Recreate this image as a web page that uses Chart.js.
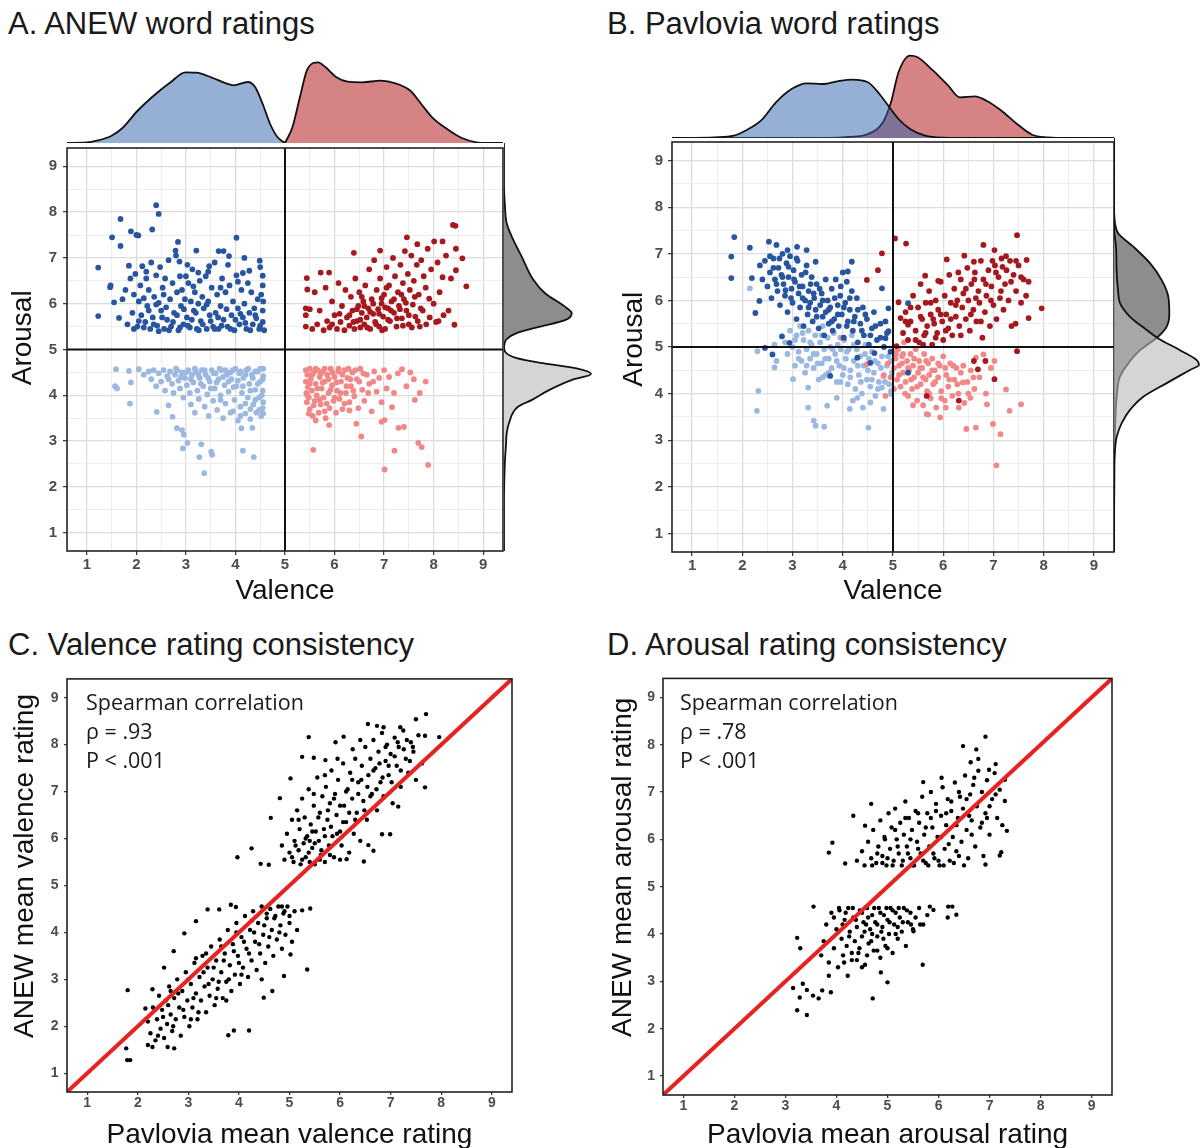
<!DOCTYPE html>
<html>
<head>
<meta charset="utf-8">
<title>ANEW vs Pavlovia word ratings</title>
<script src="https://cdn.jsdelivr.net/npm/chart.js@4.4.1/dist/chart.umd.min.js"></script>
<style>
  body { margin: 0; width: 1201px; height: 1148px; position: relative; overflow: hidden; background: #fff;
         font-family: "Liberation Sans", Arial, sans-serif; }
  canvas { position: absolute; }
  .title { position: absolute; font-size: 31px; line-height: 1; color: #1a1a1a; white-space: nowrap; }
  .stats { position: absolute; font-family: "Open Sans", sans-serif; font-size: 21.5px; line-height: 29px; color: #1a1a1a; white-space: nowrap; }
</style>
</head>
<body>
<div class="title" style="left:8px;top:8px">A. ANEW word ratings</div>
<div class="title" style="left:607px;top:8px">B. Pavlovia word ratings</div>
<div class="title" style="left:8px;top:629px">C. Valence rating consistency</div>
<div class="title" style="left:607px;top:629px">D. Arousal rating consistency</div>

<canvas id="scatterA" width="515" height="480" style="left:0;top:133px"></canvas>
<canvas id="topA" width="515" height="91" style="left:0;top:52px"></canvas>
<canvas id="rightA" width="97" height="408" style="left:504px;top:143px"></canvas>

<canvas id="scatterB" width="521" height="485" style="left:605px;top:128px"></canvas>
<canvas id="topB" width="526" height="91" style="left:600px;top:47px"></canvas>
<canvas id="rightB" width="87" height="414" style="left:1114px;top:138px"></canvas>

<canvas id="scatterC" width="525" height="483" style="left:0;top:665px"></canvas>
<canvas id="scatterD" width="529" height="483" style="left:596px;top:665px"></canvas>

<div class="stats" style="left:86px;top:687px">Spearman correlation<br>ρ = .93<br>P &lt; .001</div>
<div class="stats" style="left:680px;top:687px">Spearman correlation<br>ρ = .78<br>P &lt; .001</div>

<script>
const FONT = '"Liberation Sans", Arial, Helvetica, sans-serif';
Chart.defaults.font.family = FONT;

// --- tick labels (1..9 on every axis) ---
const axisTicks = [1, 2, 3, 4, 5, 6, 7, 8, 9];

// --- A: ANEW ratings [valence, arousal] ---
const anewHighNeg = [[1.23,6.79],[1.23,5.73],[1.51,7.45],[1.68,7.85],[1.68,7.26],[1.48,6.40],[1.47,6.36],[1.55,6.03],[1.89,7.58],[2.04,7.49],[2.00,7.50],[2.32,7.62],[2.40,8.15],[2.45,7.96],[2.84,7.35],[2.79,7.16],[3.21,7.16],[3.66,7.15],[3.76,7.15],[4.02,7.44],[3.87,7.04],[4.18,7.00],[4.49,6.94],[4.55,6.61],[4.55,6.40],[4.15,6.67],[3.03,6.85],[3.47,6.82],[3.25,6.68],
  [1.65,5.69],[1.72,6.10],[1.78,6.30],[1.82,5.55],[1.85,6.83],[1.88,6.55],[1.92,5.80],[1.95,6.20],[1.98,6.65],[2.02,5.50],[2.05,6.05],[2.08,6.40],[2.10,5.75],[2.12,6.82],[2.15,6.12],[2.18,5.60],[2.20,6.55],[2.22,5.95],[2.25,6.30],[2.28,5.45],[2.30,6.90],[2.33,5.70],[2.36,6.15],[2.40,6.62],[2.42,5.52],[2.45,6.02],[2.48,6.80],[2.50,5.85],[2.53,6.35],[2.56,5.45],[2.58,6.55],[2.62,5.65],[2.65,6.95],[2.68,6.10],[2.70,5.50],[2.73,6.45],[2.76,5.80],[2.80,7.05],[2.82,6.25],[2.85,5.42],[2.88,6.60],[2.90,5.95],[2.92,6.30],[2.95,5.55],[2.98,6.10],[3.02,5.70],[3.05,6.45],[3.08,5.48],[3.10,6.05],[3.13,6.75],[3.16,5.85],[3.18,6.25],[3.22,5.45],[3.25,6.00],[3.28,6.50],[3.30,5.62],[3.33,6.15],[3.36,5.90],[3.40,6.60],[3.42,5.45],[3.45,6.05],[3.48,5.75],[3.52,6.35],[3.55,5.50],[3.58,6.90],[3.60,5.80],[3.63,6.20],[3.66,5.45],[3.70,5.95],[3.73,6.55],[3.76,5.65],[3.80,6.25],[3.84,5.50],[3.88,6.40],[3.92,5.75],[3.95,6.05],[3.98,5.42],[4.02,6.62],[4.05,5.90],[4.08,5.55],[4.12,6.30],[4.15,5.70],[4.18,6.00],[4.22,5.45],[4.25,6.45],[4.28,5.80],[4.32,6.25],[4.35,5.55],[4.38,5.90],[4.42,5.68],[4.45,6.10],[4.48,5.45],[4.52,6.20],[4.55,5.85],[4.55,5.60],[4.56,6.05],
  [1.95,5.45],[2.05,5.62],[2.15,5.48],[2.25,5.85],[2.35,5.55],[2.45,5.40],[2.52,5.70],[2.60,5.92],[2.66,5.42],[2.74,5.60],[2.82,5.75],[2.88,5.48],[2.96,5.88],[3.04,5.52],[3.12,5.65],[3.20,5.80],[3.26,5.42],[3.34,5.55],[3.42,5.98],[3.50,5.62],[3.58,5.45],[3.65,5.70],[3.72,5.52],[3.82,5.88],[3.90,5.45],[4.00,5.65],[4.10,5.78],[4.20,5.58],[4.30,5.42],[4.40,5.75],[4.50,5.52],[4.58,5.42],[2.20,6.70],[2.55,6.20],[2.87,6.92],[3.15,6.38],[3.45,6.70],[3.85,6.85],[4.28,6.72],[4.50,6.80],[3.00,6.60],[2.40,5.98],[3.70,6.35],[4.05,6.48]];
const anewLowNeg = [[1.59,4.57],[1.61,4.15],[1.57,4.20],[1.85,4.53],[1.89,4.28],[1.87,3.82],[2.05,4.57],[2.41,3.64],[2.73,3.53],[2.65,3.78],[2.82,3.28],[2.92,3.24],[2.96,3.14],[3.03,2.96],[2.94,2.84],[3.27,2.65],[3.37,2.30],[3.51,2.77],[3.53,2.70],[3.31,2.93],[4.15,2.79],[4.37,2.65],[4.34,3.29],[4.12,3.28],
  [2.15,4.45],[2.25,4.52],[2.30,4.35],[2.35,4.55],[2.40,4.20],[2.45,4.48],[2.50,4.30],[2.55,4.55],[2.58,4.10],[2.62,4.42],[2.68,4.52],[2.72,4.25],[2.75,4.05],[2.78,4.45],[2.82,4.55],[2.85,4.32],[2.88,4.15],[2.92,4.50],[2.95,3.95],[2.98,4.38],[3.02,4.22],[3.05,4.55],[3.08,4.05],[3.10,3.80],[3.12,4.45],[3.15,4.28],[3.18,3.62],[3.20,4.52],[3.23,4.10],[3.26,3.92],[3.28,4.38],[3.32,4.55],[3.35,4.20],[3.38,3.75],[3.40,4.45],[3.43,4.02],[3.46,3.55],[3.48,4.30],[3.52,4.55],[3.55,3.88],[3.58,4.15],[3.60,4.48],[3.63,3.68],[3.66,4.35],[3.70,4.00],[3.72,4.55],[3.75,3.50],[3.78,4.22],[3.80,3.82],[3.83,4.45],[3.86,4.08],[3.90,3.62],[3.92,4.35],[3.95,4.55],[3.98,3.90],[4.02,4.20],[4.05,3.45],[4.08,4.48],[4.10,3.75],[4.13,4.05],[4.16,4.38],[4.20,3.60],[4.22,4.55],[4.25,3.95],[4.28,4.25],[4.30,3.48],[4.33,4.45],[4.36,3.80],[4.40,4.12],[4.42,3.62],[4.45,4.52],[4.48,3.95],[4.50,4.30],[4.52,3.55],[4.55,4.10],[4.55,3.72],[4.56,4.42],[4.56,3.85],[4.56,4.58],
  [2.65,4.35],[2.80,4.58],[2.90,4.40],[3.00,4.50],[3.10,4.35],[3.18,4.58],[3.25,4.45],[3.30,4.25],[3.38,4.55],[3.45,4.38],[3.50,4.15],[3.56,4.48],[3.62,4.28],[3.68,4.58],[3.75,4.40],[3.80,4.55],[3.86,4.30],[3.90,4.50],[3.96,4.18],[4.00,4.58],[4.05,4.32],[4.10,4.52],[4.15,4.20],[4.20,4.45],[4.26,4.58],[4.30,4.10],[4.35,4.38],[4.40,4.52],[4.45,4.25],[4.50,4.58],[4.53,4.00],[4.55,4.35],[4.40,3.90],[4.30,3.70],[4.48,3.68],[4.20,3.82],[3.95,3.65],[3.70,3.90],[4.56,3.60],[4.10,3.55]];
const anewHighPos = [[5.44,6.56],[5.45,6.31],[5.42,5.90],[5.42,5.75],[5.42,5.50],[5.72,6.68],[5.89,6.68],[6.39,7.11],[6.92,7.16],[7.46,7.45],[7.67,7.30],[8.01,7.36],[8.18,7.36],[8.39,7.72],[8.44,7.70],[8.58,6.99],[8.66,6.38],[8.45,7.20],[8.45,6.73],[8.42,5.54],[8.18,6.58],[7.91,6.11],
  [5.50,5.88],[5.55,5.45],[5.60,6.25],[5.65,5.55],[5.70,5.85],[5.78,5.42],[5.82,6.35],[5.85,5.62],[5.90,5.48],[5.95,6.05],[6.00,5.75],[6.05,5.45],[6.08,6.45],[6.12,5.60],[6.15,5.95],[6.20,5.42],[6.22,6.30],[6.25,5.70],[6.30,5.52],[6.33,6.15],[6.36,5.85],[6.40,5.45],[6.42,6.55],[6.45,5.62],[6.48,5.95],[6.50,6.25],[6.52,5.48],[6.55,5.80],[6.58,6.05],[6.60,5.55],[6.62,6.40],[6.65,5.70],[6.68,5.90],[6.70,6.75],[6.72,5.45],[6.75,6.10],[6.78,5.78],[6.80,6.95],[6.82,5.60],[6.85,6.30],[6.88,5.88],[6.90,5.50],[6.92,6.55],[6.95,6.00],[6.98,5.72],[7.00,6.20],[7.02,5.45],[7.05,6.80],[7.08,5.90],[7.10,6.40],[7.12,5.62],[7.15,6.05],[7.18,7.00],[7.20,5.80],[7.22,6.60],[7.25,5.50],[7.28,6.25],[7.30,5.95],[7.33,6.85],[7.36,5.68],[7.38,6.45],[7.40,6.10],[7.42,7.15],[7.45,5.85],[7.48,6.65],[7.50,5.55],[7.52,6.30],[7.55,7.05],[7.58,5.98],[7.60,6.50],[7.63,5.72],[7.66,6.85],[7.70,6.20],[7.72,5.50],[7.75,6.95],[7.78,5.85],[7.80,6.60],[7.84,6.35],[7.88,7.20],[7.92,5.70],[7.95,6.75],[8.00,6.00],[8.05,5.60],[8.08,6.90],[8.12,6.25],[8.20,5.75],[8.25,7.05],[8.30,5.85],[8.35,6.55],
  [6.30,5.75],[6.38,5.60],[6.45,5.88],[6.52,5.65],[6.60,5.95],[6.66,5.48],[6.72,5.82],[6.78,6.00],[6.84,5.55],[6.90,5.78],[6.96,5.42],[7.02,5.92],[7.08,5.65],[7.14,5.85],[7.20,6.10],[7.26,5.68],[7.32,5.88],[7.38,5.52],[7.44,6.02],[7.50,5.75],[7.56,5.48],[7.62,6.15],[7.68,5.62],[7.74,5.90],[6.95,6.12],[6.55,6.15],[7.05,6.35],[7.35,6.20],[7.85,5.55],[8.10,5.62],[6.10,5.78],[5.95,5.55]];
const anewLowPos = [[5.57,2.81],[5.89,3.35],[6.54,3.10],[7.01,2.38],[7.21,2.79],[7.29,3.29],[7.40,3.31],[7.69,2.96],[7.76,2.87],[7.89,2.48],[7.84,4.30],[7.62,3.90],[7.53,4.50],[7.36,4.57],[7.01,3.46],[6.95,3.42],[6.30,3.67],[6.44,3.38],[7.16,3.74],
  [5.42,4.55],[5.42,4.30],[5.43,4.05],[5.44,3.85],[5.45,4.45],[5.46,4.18],[5.48,3.95],[5.50,4.58],[5.50,3.70],[5.52,4.35],[5.54,4.10],[5.56,3.55],[5.58,4.50],[5.60,3.88],[5.62,4.25],[5.64,4.00],[5.66,4.55],[5.68,3.62],[5.70,4.40],[5.72,3.80],[5.74,4.15],[5.76,4.52],[5.78,3.95],[5.80,4.30],[5.82,3.50],[5.85,4.45],[5.88,4.05],[5.90,3.72],[5.92,4.58],[5.95,4.22],[5.98,3.88],[6.00,4.40],[6.03,3.62],[6.05,4.10],[6.08,4.52],[6.10,3.92],[6.13,4.30],[6.16,3.70],[6.20,4.55],[6.23,4.05],[6.26,4.38],[6.30,3.85],[6.33,4.20],[6.36,4.50],[6.40,3.98],[6.45,4.35],[6.48,3.72],[6.52,4.58],[6.56,4.12],[6.60,3.88],[6.65,4.45],[6.70,4.25],[6.75,3.65],[6.80,4.52],[6.85,4.08],[6.90,4.38],[6.95,3.85],[7.00,4.55],[7.05,4.15],[7.10,4.40],[7.20,4.05],[7.28,4.48],[7.45,4.20],[7.60,4.35],[7.72,4.05],
  [5.45,4.00],[5.50,4.25],[5.55,4.45],[5.58,3.78],[5.62,4.58],[5.65,4.15],[5.70,3.90],[5.72,4.48],[5.76,4.28],[5.80,4.58],[5.84,3.82],[5.88,4.35],[5.92,4.12],[5.96,4.50],[6.00,3.95],[6.04,4.28],[6.08,4.58],[6.12,4.05],[6.16,4.45],[6.20,3.82],[6.24,4.20],[6.28,4.58],[6.32,4.35],[6.38,4.10],[6.42,4.55],[6.50,4.30],[6.58,4.48],[6.68,4.05],[6.78,4.30],[5.48,3.60],[5.62,3.45],[5.80,3.65]];

// --- B: Pavlovia ratings [valence, arousal], coloured by ANEW group ---
const pavHighNeg = [[1.78,6.94],[1.78,6.48],[1.84,7.36],[2.15,7.13],[2.19,6.48],[2.26,5.73],[2.34,5.99],[2.53,7.26],[2.68,7.19],[2.90,7.08],[3.09,7.15],[3.28,7.08],[3.46,6.83],[4.18,6.83],[4.10,6.62],[4.78,6.26],[4.91,5.83],[4.91,5.34],[4.85,5.19],[2.60,4.84],[2.45,4.98],[2.79,5.23],[2.94,5.09],[3.75,4.38],[4.29,4.77],[4.55,4.66],[4.63,4.87],[5.30,5.94],[5.30,4.45],
  [2.45,6.85],[2.50,6.30],[2.55,6.60],[2.58,6.05],[2.62,6.90],[2.65,6.45],[2.70,6.20],[2.72,6.70],[2.75,5.90],[2.78,6.55],[2.80,7.00],[2.82,6.35],[2.85,6.10],[2.88,6.80],[2.90,5.75],[2.92,6.50],[2.95,6.95],[2.98,6.25],[3.00,5.95],[3.02,6.65],[3.05,6.40],[3.08,5.60],[3.10,6.85],[3.12,6.15],[3.15,5.85],[3.18,6.55],[3.20,6.30],[3.22,5.45],[3.25,6.00],[3.28,6.75],[3.30,5.70],[3.32,6.20],[3.35,5.95],[3.38,6.50],[3.40,5.55],[3.43,6.05],[3.46,5.80],[3.48,6.35],[3.52,5.40],[3.55,5.90],[3.58,6.15],[3.60,5.65],[3.63,5.25],[3.66,5.75],[3.70,6.00],[3.72,5.50],[3.75,5.85],[3.78,6.25],[3.80,5.35],[3.83,5.60],[3.86,6.45],[3.90,5.90],[3.92,5.45],[3.95,6.10],[3.98,5.70],[4.00,6.60],[4.02,5.20],[4.05,5.95],[4.08,6.40],[4.10,5.55],[4.14,5.80],[4.18,6.20],[4.20,5.35],[4.24,5.65],[4.28,6.05],[4.30,5.10],[4.35,5.50],[4.40,5.85],[4.42,5.25],[4.48,5.60],[4.52,5.05],[4.58,5.40],[4.62,5.75],[4.68,5.15],[4.75,5.50],[4.82,5.00],[4.88,5.30],[4.95,4.90],
  [2.55,6.95],[2.62,6.70],[2.68,6.35],[2.74,6.90],[2.80,6.50],[2.86,6.22],[2.92,6.72],[2.97,6.05],[3.03,6.45],[3.08,6.90],[3.14,6.30],[3.20,6.05],[3.26,6.60],[3.32,5.85],[3.36,6.35],[3.42,6.15],[3.48,5.65],[3.54,6.25],[3.60,6.00],[3.66,6.45],[3.72,5.80],[3.78,5.55],[3.84,6.05],[3.90,5.70],[3.96,6.30],[4.02,5.85],[4.08,5.45],[4.14,6.05],[4.22,5.55],[4.30,5.80],[4.38,5.35],[4.45,5.70],[4.55,5.25],[4.65,5.45],[4.75,5.20],[4.85,5.55],[2.35,6.75],[2.40,6.45]];
const pavLowNeg = [[2.15,6.26],[2.30,4.91],[2.32,4.06],[2.29,3.63],[2.64,5.05],[2.64,4.56],[2.68,4.70],[3.01,4.31],[3.31,4.13],[3.31,3.70],[3.42,3.42],[3.46,3.31],[3.63,3.29],[3.69,3.74],[3.88,3.91],[4.14,3.67],[4.29,3.91],[4.51,3.27],[4.55,3.81],[4.81,3.67],[4.78,4.13],[4.96,3.99],
  [2.85,5.10],[2.90,4.85],[2.95,5.35],[3.00,5.00],[3.05,4.60],[3.08,5.25],[3.12,4.90],[3.15,5.45],[3.18,4.70],[3.22,5.15],[3.25,4.45],[3.28,4.95],[3.32,5.35],[3.35,4.75],[3.38,5.05],[3.42,4.55],[3.45,5.25],[3.48,4.85],[3.52,4.30],[3.55,5.10],[3.58,4.65],[3.60,5.45],[3.63,4.95],[3.66,4.40],[3.70,5.20],[3.72,4.75],[3.75,5.00],[3.78,4.55],[3.82,5.30],[3.85,4.85],[3.88,4.25],[3.90,5.05],[3.93,4.60],[3.96,4.95],[4.00,4.40],[4.03,5.15],[4.06,4.75],[4.10,4.20],[4.12,4.95],[4.15,4.50],[4.18,5.25],[4.22,4.70],[4.25,4.10],[4.28,4.95],[4.32,4.40],[4.35,4.80],[4.38,4.00],[4.42,4.60],[4.45,5.05],[4.48,4.30],[4.52,4.75],[4.55,4.15],[4.58,4.90],[4.62,4.45],[4.65,3.95],[4.70,4.65],[4.72,4.25],[4.78,4.80],[4.82,4.40],[4.88,4.60],[4.92,4.20],[4.96,4.70],[4.98,4.45],
  [3.05,5.15],[3.12,4.75],[3.20,5.30],[3.28,4.60],[3.35,5.10],[3.42,4.85],[3.50,4.65],[3.58,5.25],[3.65,4.75],[3.72,4.45],[3.80,4.95],[3.88,4.70],[3.95,5.20],[4.02,4.55],[4.08,4.90],[4.15,4.35],[4.22,5.05],[4.30,4.60],[4.36,4.25],[4.44,4.85],[4.50,4.50],[4.58,4.30],[4.64,4.70],[4.70,4.10],[4.76,4.55],[4.84,4.25],[4.90,4.80],[4.96,4.05],[4.40,3.70],[4.20,3.85],[3.95,4.25],[3.60,4.35]];
const pavHighPos = [[4.78,7.01],[4.70,6.65],[4.48,6.44],[5.04,7.33],[5.26,7.22],[5.64,6.53],[5.90,6.42],[6.07,6.88],[6.42,6.96],[6.61,6.83],[6.80,7.19],[7.02,7.08],[7.47,7.40],[7.66,6.87],[7.70,6.40],[7.96,5.83],[7.70,5.62],[7.47,4.91],[7.44,5.50],[6.84,4.70],[6.69,4.52],[6.61,4.70],[7.02,4.31],[6.31,3.85],[5.67,3.95],[5.07,5.02],[5.11,5.96],[5.15,5.62],[5.30,5.48],
  [5.20,5.30],[5.25,5.75],[5.30,5.15],[5.35,5.55],[5.40,6.10],[5.45,5.35],[5.50,5.85],[5.52,5.10],[5.55,6.35],[5.58,5.60],[5.62,5.25],[5.65,5.95],[5.68,5.45],[5.72,6.20],[5.75,5.70],[5.78,5.05],[5.82,5.50],[5.85,6.00],[5.88,5.30],[5.90,5.80],[5.95,6.40],[5.98,5.55],[6.00,5.15],[6.03,6.10],[6.06,5.70],[6.10,5.40],[6.12,6.55],[6.15,5.95],[6.18,5.25],[6.22,6.25],[6.25,5.65],[6.28,6.00],[6.32,5.45],[6.35,6.45],[6.38,5.85],[6.40,6.15],[6.45,5.60],[6.48,6.70],[6.50,6.00],[6.53,5.35],[6.56,6.35],[6.60,5.80],[6.63,6.60],[6.66,5.55],[6.70,6.20],[6.72,5.95],[6.75,6.85],[6.78,5.20],[6.80,6.45],[6.83,5.75],[6.86,6.10],[6.90,6.65],[6.93,5.45],[6.96,6.30],[7.00,5.90],[7.03,6.75],[7.06,5.60],[7.10,6.50],[7.13,6.05],[7.16,6.90],[7.20,5.80],[7.23,6.35],[7.26,6.65],[7.30,6.00],[7.33,6.85],[7.36,5.45],[7.40,6.55],[7.45,6.20],[7.50,6.75],[7.55,5.95],[7.60,6.45],[7.65,6.10],
  [5.25,5.55],[5.35,5.85],[5.45,5.15],[5.55,5.65],[5.65,5.30],[5.75,5.95],[5.85,5.20],[5.95,5.70],[6.05,5.35],[6.15,5.60],[6.25,5.90],[6.35,5.25],[6.45,6.25],[6.55,5.70],[6.65,6.05],[6.75,5.55],[6.85,6.35],[6.95,6.00],[7.05,6.60],[7.15,6.20],[7.25,6.95],[7.35,6.40],[7.45,6.85],[7.55,6.50],[7.18,6.72],[6.98,6.85],[6.62,6.45],[6.30,6.60],[5.80,5.60],[5.60,5.05]];
const pavLowPos = [[4.81,4.38],[4.85,3.95],[4.48,4.63],[3.99,5.19],[7.06,2.46],[7.14,3.13],[6.99,3.35],[6.65,3.27],[6.46,3.24],[7.32,3.63],[7.55,3.77],[7.25,4.09],[7.02,4.70],[6.80,4.84],[6.65,4.77],[6.39,4.24],[5.94,3.49],[5.67,3.56],[6.31,3.70],[6.54,3.91],[6.87,3.77],
  [5.00,4.90],[5.02,4.55],[5.05,4.75],[5.08,4.30],[5.10,4.95],[5.12,4.60],[5.15,4.15],[5.18,4.80],[5.20,4.45],[5.22,5.10],[5.25,4.25],[5.28,4.70],[5.30,3.95],[5.32,4.50],[5.35,4.85],[5.38,4.10],[5.40,4.60],[5.42,4.35],[5.45,4.95],[5.48,3.85],[5.50,4.45],[5.52,4.70],[5.55,4.20],[5.58,4.55],[5.60,3.75],[5.62,4.85],[5.65,4.30],[5.68,4.05],[5.70,4.65],[5.72,4.40],[5.75,3.90],[5.78,4.75],[5.80,4.20],[5.83,4.50],[5.86,3.70],[5.90,4.35],[5.93,4.60],[5.96,4.05],[6.00,4.80],[6.03,3.85],[6.06,4.40],[6.10,4.15],[6.14,4.65],[6.18,3.95],[6.22,4.30],[6.26,4.55],[6.30,4.00],[6.35,4.45],[6.42,3.80],[6.48,4.25],[6.55,4.50],[6.62,4.10],[6.72,4.35],[6.85,4.00],[6.95,4.55],
  [4.90,4.65],[4.95,4.35],[5.02,4.10],[5.06,4.85],[5.12,4.40],[5.18,4.65],[5.24,4.00],[5.30,4.55],[5.36,4.30],[5.42,4.75],[5.48,4.15],[5.54,4.55],[5.60,4.35],[5.66,4.70],[5.72,4.00],[5.78,4.50],[5.84,4.25],[5.90,4.65],[5.96,3.90],[6.04,4.55],[6.12,4.30],[6.20,4.60],[6.28,4.20],[6.40,4.60],[6.50,4.00],[6.60,4.35],[5.40,3.75],[5.70,3.55],[6.05,3.70],[5.20,4.85]];

// --- C: [Pavlovia valence, ANEW valence] ---
const valUpper = [[3.97,5.60],[4.25,5.79],[4.43,5.46],[4.59,5.44],[4.63,6.44],[4.81,6.86],[5.02,7.28],[5.25,7.74],[5.38,8.16],[5.48,7.72],[5.71,7.67],[5.91,8.05],[6.07,8.17],[6.55,8.44],[6.73,8.40],[6.86,8.37],[7.19,8.37],[7.50,8.54],[7.70,8.65],[7.68,8.19],[7.96,8.16],[7.68,7.09],[7.15,6.68],[6.99,6.09],[6.83,6.09],[6.56,5.86],[6.47,5.51],[6.66,5.74],[6.13,5.56],
  [4.85,5.85],[4.90,5.55],[4.95,6.10],[5.00,5.70],[5.05,6.40],[5.08,5.50],[5.10,5.95],[5.15,6.60],[5.18,5.75],[5.20,6.20],[5.22,5.45],[5.25,6.85],[5.28,5.90],[5.30,6.45],[5.32,5.60],[5.35,6.05],[5.38,7.05],[5.40,5.50],[5.42,6.30],[5.45,5.80],[5.48,6.70],[5.50,5.45],[5.52,6.15],[5.55,7.30],[5.58,5.95],[5.60,6.55],[5.62,5.65],[5.65,6.90],[5.68,6.20],[5.70,5.50],[5.72,7.10],[5.75,6.40],[5.78,5.85],[5.80,6.75],[5.83,7.45],[5.85,6.05],[5.88,5.60],[5.90,6.95],[5.93,6.50],[5.96,7.25],[6.00,6.15],[6.03,5.85],[6.06,7.60],[6.08,6.70],[6.12,6.35],[6.15,7.05],[6.18,5.70],[6.20,7.40],[6.24,6.85],[6.27,6.10],[6.30,7.70],[6.33,6.55],[6.36,7.20],[6.40,5.95],[6.43,7.55],[6.46,6.80],[6.50,7.95],[6.53,6.40],[6.56,7.35],[6.60,7.70],[6.63,6.95],[6.66,8.10],[6.70,7.50],[6.73,6.60],[6.76,7.85],[6.80,7.20],[6.83,8.25],[6.86,6.90],[6.90,7.65],[6.93,8.00],[6.96,7.35],[7.00,7.80],[7.04,6.75],[7.08,8.15],[7.12,7.55],[7.16,7.95],[7.20,7.10],[7.25,8.30],[7.30,7.70],[7.35,7.40],[7.40,8.05],[7.45,7.85],[7.50,7.25],[7.55,8.20],[7.62,7.60],
  [5.05,5.60],[5.12,5.85],[5.18,6.40],[5.25,5.55],[5.32,6.00],[5.38,5.70],[5.45,6.15],[5.50,5.90],[5.57,6.45],[5.63,5.75],[5.70,6.05],[5.76,6.60],[5.82,6.25],[5.88,6.85],[5.94,6.10],[6.00,6.70],[6.06,6.35],[6.12,7.00],[6.18,6.55],[6.24,7.25],[6.30,6.40],[6.36,6.95],[6.42,7.25],[6.48,6.60],[6.54,7.10],[6.60,6.90],[6.66,7.45],[6.72,7.05],[6.78,7.60],[6.84,7.30],[6.90,7.95],[6.96,7.55],[7.02,7.20],[7.08,7.75],[7.14,8.05],[7.20,7.45],[7.26,7.90],[7.32,8.10],[7.38,7.65],[7.44,7.95],[5.40,5.95],[5.60,5.55],[5.80,5.65],[6.00,5.55],[5.48,6.95],[5.70,7.35],[5.95,7.70],[6.25,7.90],[6.40,8.10]];
const valLower = [[1.77,1.53],[1.79,1.28],[1.85,1.28],[1.80,2.77],[2.15,2.38],[2.29,2.79],[2.52,3.25],[2.71,3.60],[2.92,3.98],[3.15,4.24],[3.38,4.49],[3.61,4.49],[3.84,4.59],[3.94,4.54],[5.25,4.47],[5.41,4.51],[5.35,3.21],[5.02,3.53],[4.89,3.07],[4.66,2.75],[4.49,2.61],[4.20,1.91],[3.79,1.81],[3.90,1.91],[2.59,1.56],[2.72,1.53],[2.20,1.60],[2.29,1.56],
  [2.20,2.10],[2.25,1.85],[2.30,2.40],[2.35,1.70],[2.38,2.15],[2.42,2.65],[2.45,1.95],[2.48,2.35],[2.52,1.75],[2.55,2.55],[2.58,2.05],[2.62,2.85],[2.65,2.25],[2.68,1.90],[2.72,2.60],[2.75,2.15],[2.78,3.00],[2.82,2.40],[2.85,1.80],[2.88,2.75],[2.92,2.20],[2.95,3.15],[2.98,2.55],[3.02,2.00],[3.05,2.90],[3.08,2.40],[3.12,3.35],[3.15,2.70],[3.18,2.15],[3.22,3.05],[3.25,2.55],[3.28,3.50],[3.32,2.85],[3.35,2.30],[3.38,3.25],[3.42,2.65],[3.45,3.70],[3.48,3.00],[3.52,2.45],[3.55,3.40],[3.58,2.80],[3.62,3.85],[3.65,3.15],[3.68,2.60],[3.72,3.55],[3.75,2.95],[3.78,4.05],[3.82,3.30],[3.85,2.75],[3.88,3.75],[3.92,3.10],[3.95,4.20],[3.98,3.50],[4.02,2.90],[4.05,3.90],[4.08,3.25],[4.12,4.35],[4.15,3.65],[4.18,3.05],[4.22,4.05],[4.25,3.40],[4.28,4.45],[4.32,3.80],[4.35,3.20],[4.38,4.20],[4.42,3.55],[4.45,4.55],[4.48,3.95],[4.52,3.35],[4.55,4.30],[4.58,3.70],[4.62,4.50],[4.65,4.05],[4.68,3.50],[4.72,4.35],[4.75,3.85],[4.78,4.55],[4.82,4.15],[4.85,3.65],[4.88,4.40],[4.92,3.95],[4.96,4.55],[5.00,4.20],[5.05,3.80],[5.10,4.45],[5.15,4.05],
  [2.40,1.80],[2.50,2.20],[2.60,2.45],[2.70,2.00],[2.80,2.70],[2.90,2.35],[3.00,3.00],[3.10,2.60],[3.20,2.30],[3.30,3.15],[3.40,2.90],[3.50,3.25],[3.60,2.95],[3.70,3.40],[3.80,3.00],[3.90,3.60],[4.00,3.35],[4.10,3.80],[4.20,3.55],[4.30,4.00],[4.40,3.75],[4.50,4.15],[4.60,3.90],[4.70,4.30],[4.80,4.00],[4.90,4.45],[5.00,4.35],[3.35,3.55],[3.65,3.70],[3.95,4.00],[4.25,4.25],[4.55,4.40],[3.05,2.15],[3.55,2.60],[4.05,3.10],[4.45,3.00],[3.75,2.55],[2.65,2.75],[3.15,3.45],[4.85,4.55]];

// --- D: [Pavlovia arousal, ANEW arousal] ---
const aroUpper = [[3.85,5.72],[3.92,5.93],[4.17,5.49],[4.33,6.50],[4.68,6.75],[4.56,6.29],[5.70,7.21],[6.06,7.30],[6.48,7.97],[6.63,7.63],[6.74,7.90],[6.78,7.70],[6.92,8.17],[7.12,7.59],[6.99,7.47],[7.30,6.81],[7.34,6.18],[7.23,5.73],[7.20,5.66],[6.92,5.47],[7.30,7.26],
  [4.40,5.55],[4.50,5.75],[4.55,5.45],[4.62,5.95],[4.68,5.60],[4.72,6.20],[4.78,5.50],[4.82,5.85],[4.86,6.40],[4.90,5.65],[4.94,6.05],[4.98,5.45],[5.02,6.55],[5.05,5.80],[5.08,6.25],[5.12,5.55],[5.15,6.65],[5.18,6.00],[5.22,5.70],[5.25,6.35],[5.28,5.45],[5.32,6.10],[5.35,6.80],[5.38,5.85],[5.42,6.45],[5.45,5.60],[5.48,6.20],[5.52,5.45],[5.55,6.60],[5.58,5.95],[5.62,6.35],[5.65,5.70],[5.68,6.90],[5.72,6.10],[5.75,5.50],[5.78,6.55],[5.82,5.85],[5.85,7.00],[5.88,6.25],[5.92,5.60],[5.95,6.75],[5.98,6.05],[6.02,5.45],[6.05,6.50],[6.08,7.10],[6.12,5.80],[6.15,6.30],[6.18,6.85],[6.22,5.55],[6.25,6.60],[6.28,6.05],[6.32,7.20],[6.35,5.75],[6.38,6.45],[6.42,6.90],[6.45,5.95],[6.48,6.65],[6.52,7.35],[6.55,6.20],[6.58,5.60],[6.62,6.95],[6.65,6.40],[6.68,7.15],[6.72,5.85],[6.75,6.70],[6.78,7.45],[6.82,6.25],[6.85,7.00],[6.88,5.65],[6.92,6.55],[6.95,7.25],[7.00,6.10],[7.05,6.85],[7.10,7.40],[7.15,6.45],[7.20,7.05],[7.25,6.30],
  [4.70,5.45],[4.80,5.70],[4.90,5.50],[5.00,5.60],[5.10,5.45],[5.20,5.85],[5.30,5.55],[5.40,5.70],[5.50,5.45],[5.60,5.80],[5.70,5.55],[5.80,5.45],[5.90,5.70],[6.00,5.55],[6.10,5.45],[6.20,5.90],[6.30,5.50],[6.40,5.65],[6.50,5.45],[5.15,6.20],[5.45,6.00],[5.75,6.25],[6.05,6.05],[6.35,6.30],[6.65,6.10],[6.95,6.45],[5.60,6.55],[5.95,6.60],[6.25,6.80],[6.55,6.85],[6.85,6.35],[6.40,7.00],[6.70,7.30],[6.15,6.55],[5.35,6.45],[4.95,6.00],[5.85,6.45],[6.60,6.50],[7.00,6.70],[7.12,6.95]];
const aroLower = [[3.55,4.58],[3.23,3.92],[3.29,3.70],[3.15,2.86],[3.28,2.66],[3.34,2.95],[3.42,2.82],[3.54,2.70],[3.65,2.64],[3.72,2.81],[3.89,2.77],[3.85,3.12],[4.22,3.12],[4.71,2.64],[4.87,3.19],[5.00,2.98],[3.23,2.39],[3.42,2.29],[5.69,3.35],[6.19,4.58],[6.27,4.58],[6.18,4.35],[6.35,4.41],[5.83,4.58],[5.90,4.51],[5.64,4.20],[5.51,4.06],
  [3.70,3.55],[3.75,3.85],[3.80,4.20],[3.85,3.40],[3.90,4.45],[3.95,3.70],[4.00,4.10],[4.03,3.30],[4.06,4.50],[4.10,3.90],[4.13,3.55],[4.16,4.30],[4.20,3.75],[4.23,4.55],[4.26,4.05],[4.30,3.45],[4.33,4.35],[4.36,3.85],[4.40,4.15],[4.43,3.60],[4.46,4.50],[4.50,3.95],[4.53,4.25],[4.56,3.35],[4.60,4.55],[4.63,3.80],[4.66,4.10],[4.70,4.40],[4.73,3.65],[4.76,4.25],[4.80,3.95],[4.83,4.55],[4.86,3.50],[4.90,4.15],[4.93,4.40],[4.96,3.75],[5.00,4.30],[5.03,4.00],[5.06,4.55],[5.10,3.60],[5.13,4.20],[5.16,4.45],[5.20,3.90],[5.24,4.35],[5.28,4.05],[5.32,4.55],[5.36,3.75],[5.40,4.25],[5.45,4.45],[5.50,4.10],[5.55,4.35],[5.62,4.55],[5.70,4.20],[5.78,4.40],
  [3.95,4.35],[4.05,4.55],[4.12,4.20],[4.18,4.45],[4.25,3.95],[4.32,4.55],[4.38,4.30],[4.45,3.70],[4.50,4.45],[4.55,4.05],[4.62,4.35],[4.68,3.85],[4.74,4.55],[4.80,4.20],[4.86,4.45],[4.92,3.90],[4.98,4.55],[5.04,4.25],[5.10,4.50],[5.16,4.00],[5.22,4.55],[5.30,4.25],[5.38,4.50],[5.46,4.20],[4.40,3.45],[4.60,3.55],[4.80,3.65],[4.30,3.60],[4.15,3.40],[5.00,3.70],[4.70,4.00],[4.50,3.30],[5.20,4.15],[4.88,4.05],[4.58,4.20]];

// --- marginal densities (position on axis, density height) ---
const anewValNegX = [0.6, 1.0, 1.2, 1.5, 1.72, 2.02, 2.39, 2.69, 2.99, 3.21, 3.51, 3.81, 3.96, 4.25, 4.40, 4.55, 4.70, 4.85, 4.96, 5.0];
const anewValNegD = [0, 0.005, 0.023, 0.073, 0.15, 0.32, 0.49, 0.607, 0.707, 0.703, 0.657, 0.597, 0.577, 0.61, 0.557, 0.39, 0.19, 0.057, 0.013, 0];
const anewValPosX = [5.0, 5.15, 5.30, 5.44, 5.57, 5.67, 5.82, 6.04, 6.26, 6.56, 6.93, 7.23, 7.53, 7.75, 7.97, 8.27, 8.57, 8.86, 9.1, 9.4];
const anewValPosD = [0, 0.157, 0.457, 0.723, 0.80, 0.807, 0.757, 0.657, 0.613, 0.607, 0.623, 0.597, 0.523, 0.39, 0.257, 0.14, 0.05, 0.007, 0, 0];
const anewAroHighY = [5.0, 5.15, 5.30, 5.44, 5.58, 5.73, 5.87, 6.16, 6.45, 6.95, 7.31, 7.67, 8.03, 8.5, 9.4];
const anewAroHighD = [0, 0.02, 0.127, 0.36, 0.61, 0.677, 0.61, 0.41, 0.293, 0.177, 0.093, 0.027, 0.01, 0, 0];
const anewAroLowY = [0.6, 1.7, 2.13, 2.56, 2.89, 3.14, 3.36, 3.71, 3.86, 4.07, 4.29, 4.42, 4.54, 4.65, 4.76, 4.90, 5.0];
const anewAroLowD = [0, 0, 0.003, 0.01, 0.02, 0.027, 0.05, 0.14, 0.28, 0.45, 0.68, 0.87, 0.727, 0.39, 0.127, 0.01, 0];

const pavValNegX = [0.6, 1.45, 1.83, 2.06, 2.37, 2.67, 2.98, 3.28, 3.59, 3.89, 4.19, 4.50, 4.73, 4.88, 5.11, 5.34, 5.64, 6.02, 6.5, 9.4];
const pavValNegD = [0, 0.007, 0.023, 0.073, 0.173, 0.357, 0.49, 0.547, 0.54, 0.567, 0.583, 0.557, 0.44, 0.34, 0.19, 0.09, 0.023, 0.003, 0, 0];
const pavValPosX = [0.6, 3.74, 4.12, 4.50, 4.80, 4.96, 5.11, 5.34, 5.49, 5.80, 6.10, 6.33, 6.63, 6.86, 7.16, 7.47, 7.77, 8.08, 8.5, 9.4];
const pavValPosD = [0, 0, 0.01, 0.04, 0.157, 0.357, 0.657, 0.823, 0.807, 0.673, 0.523, 0.407, 0.417, 0.373, 0.273, 0.14, 0.033, 0.007, 0, 0];
const pavAroHighY = [0.6, 2.49, 3.19, 3.90, 4.33, 4.61, 4.89, 5.18, 5.39, 5.67, 6.03, 6.38, 6.74, 7.09, 7.37, 7.59, 8.0, 9.4];
const pavAroHighD = [0, 0.003, 0.01, 0.027, 0.06, 0.143, 0.26, 0.443, 0.527, 0.553, 0.543, 0.477, 0.36, 0.193, 0.043, 0.01, 0, 0];
const pavAroLowY = [0.6, 2.49, 2.77, 3.05, 3.34, 3.62, 3.90, 4.19, 4.47, 4.58, 4.68, 4.89, 5.14, 5.32, 5.60, 5.89, 6.17, 6.52, 7.09, 7.5, 9.4];
const pavAroLowD = [0, 0.003, 0.01, 0.027, 0.077, 0.16, 0.293, 0.527, 0.76, 0.85, 0.827, 0.66, 0.443, 0.327, 0.16, 0.06, 0.04, 0.027, 0.02, 0, 0];

// --- colours ---
const darkBlue = "#27559f", lightBlue = "#9ab8e2", darkRed = "#a5191e", lightRed = "#f28787";

// --- helpers ---
const toXY = arr => arr.map(p => ({ x: p[0], y: p[1] }));
const isMajor = c => c.tick && axisTicks.includes(c.tick.value);

const frame = {
  id: "frame",
  afterDatasetsDraw(chart) {
    const { ctx, chartArea: a } = chart;
    ctx.save();
    ctx.strokeStyle = "#222";
    ctx.lineWidth = 1.6;
    ctx.strokeRect(a.left, a.top, a.right - a.left, a.bottom - a.top);
    ctx.restore();
  }
};

function axis(opt) {
  return {
    type: "linear", min: 0.6, max: 9.4,
    ticks: {
      stepSize: opt.grid ? 0.5 : 1, includeBounds: false, autoSkip: false, maxRotation: 0,
      callback: v => axisTicks.includes(v) ? v : "",
      color: "#4d4d4d", font: { size: opt.tickSize, weight: "bold" }, padding: opt.tickPad
    },
    grid: {
      drawOnChartArea: !!opt.grid,
      color: c => isMajor(c) ? "#dcdcdc" : "#ebebeb",
      lineWidth: c => isMajor(c) ? 1.3 : 0.9,
      tickColor: c => isMajor(c) ? "#333" : "rgba(0,0,0,0)",
      tickLength: opt.tickLen, tickWidth: 1.2
    },
    border: { display: false },
    title: {
      display: true, text: opt.title, color: "#111",
      font: { size: 28, lineHeight: opt.titleLH || 1.2 }, padding: opt.titlePad
    },
    afterFit: s => { if (opt.height) s.height = opt.height; else s.width = opt.width; }
  };
}

// leading spaces nudge the rotated y titles upward, as in the original layout
const lift = (text, n) => "\u00a0".repeat(n) + text;

function pointSet(arr, color, r) {
  return { data: toXY(arr), backgroundColor: color, borderWidth: 0, pointRadius: r };
}

function refLine(p0, p1, color, w) {
  return { data: [p0, p1], showLine: true, borderColor: color, borderWidth: w, pointRadius: 0 };
}

function scatterChart(id, datasets, xAxis, yAxis, pad) {
  return new Chart(document.getElementById(id), {
    type: "scatter",
    data: { datasets },
    options: {
      responsive: false, animation: false, events: [],
      layout: { padding: pad },
      plugins: { legend: { display: false }, tooltip: { enabled: false } },
      scales: { x: xAxis, y: yAxis }
    },
    plugins: [frame]
  });
}

function densityChart(id, curves, sideways, pad, max) {
  const valueAxis = { type: "linear", display: false, min: 0, max };
  const posAxis = { type: "linear", display: false, min: 0.6, max: 9.4 };
  return new Chart(document.getElementById(id), {
    type: "line",
    data: {
      datasets: curves.map(c => ({
        data: c.pos.map((p, i) => sideways ? { x: c.dens[i], y: p } : { x: p, y: c.dens[i] }),
        fill: "origin", backgroundColor: c.fill, borderColor: "#111", borderWidth: 1.8,
        pointRadius: 0, cubicInterpolationMode: "monotone"
      }))
    },
    options: {
      responsive: false, animation: false, events: [],
      indexAxis: sideways ? "y" : "x",
      layout: { padding: pad },
      plugins: { legend: { display: false }, tooltip: { enabled: false } },
      scales: { x: sideways ? valueAxis : posAxis, y: sideways ? posAxis : valueAxis }
    }
  });
}

// --- A ---
scatterChart("scatterA", [
  refLine({ x: 5, y: 0 }, { x: 5, y: 10 }, "#111", 2),
  refLine({ x: 0, y: 5 }, { x: 10, y: 5 }, "#111", 2),
  pointSet(anewHighNeg, darkBlue, 2.9),
  pointSet(anewLowNeg, lightBlue, 2.9),
  pointSet(anewHighPos, darkRed, 2.9),
  pointSet(anewLowPos, lightRed, 2.9)
],
  axis({ grid: true, title: "Valence", tickSize: 15, tickPad: 1, tickLen: 4, titlePad: { top: 0, bottom: 5 }, height: 62 }),
  axis({ grid: true, title: lift("Arousal", 3), tickSize: 15, tickPad: 6, tickLen: 4, titlePad: { top: 6.5, bottom: 0 }, width: 67 }),
  { top: 10, right: 12, left: 0, bottom: 0 });

densityChart("topA", [
  { pos: anewValNegX, dens: anewValNegD, fill: "rgba(45,95,170,0.5)" },
  { pos: anewValPosX, dens: anewValPosD, fill: "rgba(180,30,35,0.55)" }
], false, { left: 67, right: 12, top: 5, bottom: 0 }, 0.86);

densityChart("rightA", [
  { pos: anewAroLowY, dens: anewAroLowD, fill: "rgba(185,185,185,0.6)" },
  { pos: anewAroHighY, dens: anewAroHighD, fill: "rgba(80,80,80,0.65)" }
], true, 0, 0.97);

// --- B ---
scatterChart("scatterB", [
  refLine({ x: 5, y: 0 }, { x: 5, y: 10 }, "#111", 2),
  refLine({ x: 0, y: 5 }, { x: 10, y: 5 }, "#111", 2),
  pointSet(pavHighPos, darkRed, 2.9),
  pointSet(pavHighNeg, darkBlue, 2.9),
  pointSet(pavLowPos, lightRed, 2.9),
  pointSet(pavLowNeg, lightBlue, 2.9)
],
  axis({ grid: true, title: "Valence", tickSize: 15, tickPad: 1, tickLen: 4, titlePad: { top: 0, bottom: 5 }, height: 61 }),
  axis({ grid: true, title: lift("Arousal", 2), tickSize: 15, tickPad: 5, tickLen: 4, titlePad: { top: 12.5, bottom: 0 }, width: 67 }),
  { top: 10, right: 12, left: 0, bottom: 0 });

densityChart("topB", [
  { pos: pavValNegX, dens: pavValNegD, fill: "rgba(45,95,170,0.5)" },
  { pos: pavValPosX, dens: pavValPosD, fill: "rgba(180,30,35,0.55)" }
], false, { left: 72, right: 12, top: 5, bottom: 0 }, 0.86);

densityChart("rightB", [
  { pos: pavAroLowY, dens: pavAroLowD, fill: "rgba(185,185,185,0.6)" },
  { pos: pavAroHighY, dens: pavAroHighD, fill: "rgba(80,80,80,0.65)" }
], true, 0, 0.87);

// --- C ---
scatterChart("scatterC", [
  refLine({ x: 0, y: 0 }, { x: 10, y: 10 }, "#e62222", 4),
  pointSet(valUpper, "#000", 2.2),
  pointSet(valLower, "#000", 2.2)
],
  axis({ title: "Pavlovia mean valence rating", tickSize: 14, tickPad: 0, tickLen: 3, titleLH: 0.8, titlePad: { top: 0, bottom: 1.2 }, height: 56 }),
  axis({ title: lift("ANEW mean valence rating", 5), tickSize: 14, tickPad: 5.5, tickLen: 3, titlePad: { top: 8.5, bottom: 0 }, width: 67 }),
  { top: 10, right: 13, left: 0, bottom: 0 });

// --- D ---
scatterChart("scatterD", [
  refLine({ x: 0, y: 0 }, { x: 10, y: 10 }, "#e62222", 4),
  pointSet(aroUpper, "#000", 2.2),
  pointSet(aroLower, "#000", 2.2)
],
  axis({ title: "Pavlovia mean arousal rating", tickSize: 14, tickPad: 0, tickLen: 3, titleLH: 0.8, titlePad: { top: 0, bottom: 1.2 }, height: 53 }),
  axis({ title: lift("ANEW mean arousal rating", 5), tickSize: 14, tickPad: 5, tickLen: 3, titlePad: { top: 10.5, bottom: 0 }, width: 67 }),
  { top: 10, right: 13, left: 0, bottom: 0 });
</script>
</body>
</html>
